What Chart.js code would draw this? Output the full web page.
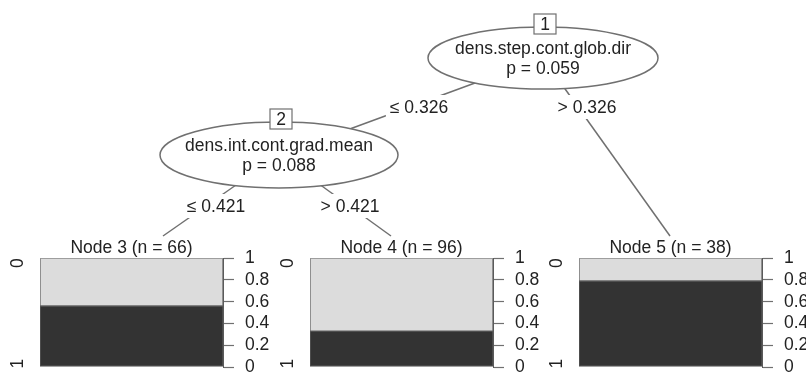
<!DOCTYPE html>
<html>
<head>
<meta charset="utf-8">
<script src="https://cdn.jsdelivr.net/npm/chart.js@4.4.1/dist/chart.umd.min.js"></script>
<style>
  html, body { margin: 0; padding: 0; background: #fff; overflow: hidden; }
  #wrap { position: relative; width: 806px; height: 373px; overflow: hidden; background: #fff; }
  canvas { position: absolute; }
</style>
</head>
<body>
<div id="wrap">
  <canvas id="tree" width="806" height="373" style="left:0;top:0;width:806px;height:373px"></canvas>
  <canvas id="n3" width="270" height="160" style="left:0;top:235px;width:270px;height:160px"></canvas>
  <canvas id="n4" width="270" height="160" style="left:270px;top:235px;width:270px;height:160px"></canvas>
  <canvas id="n5" width="270" height="160" style="left:539px;top:235px;width:270px;height:160px"></canvas>
</div>
<script>
// ---------- data ----------
const innerIds = [1, 2];
const splitVars = ["dens.step.cont.glob.dir", "dens.int.cont.grad.mean"];
const pValues = ["0.059", "0.088"];
const splitPoints = ["0.326", "0.421"];
const terminalIds = [3, 4, 5];
const terminalN = [66, 96, 38];
const share1 = [0.56, 0.33, 0.79];   // dark, bottom
const share0 = [0.44, 0.67, 0.21];   // light, top
const classLabels = ["0", "1"];
const yTickStep = 0.2;

// ---------- layout (positions on the tree canvas) ----------
const FONT = '"Liberation Sans", Arial, Helvetica, sans-serif';
const FS = 17.5;
const TXT = '#222222';
const LINE = '#707070';
Chart.defaults.font.family = FONT;
Chart.defaults.color = TXT;

const innerPos = { 1: {x: 543, y: 58, rx: 115, ry: 31}, 2: {x: 279, y: 155, rx: 119, ry: 33} };
const terminalAnchor = { 3: {x: 163, y: 236}, 4: {x: 391, y: 236}, 5: {x: 670, y: 236} };
const edges = [
  {from: 1, to: 2, text: "\u2264 " + splitPoints[0], lx: 419, ly: 107},
  {from: 1, to: 5, text: "> " + splitPoints[0], lx: 587, ly: 107},
  {from: 2, to: 3, text: "\u2264 " + splitPoints[1], lx: 216, ly: 206},
  {from: 2, to: 4, text: "> " + splitPoints[1], lx: 350, ly: 206}
];
function posOf(id) { return innerPos[id] || terminalAnchor[id]; }

const treePlugin = {
  id: 'treePlugin',
  afterDatasetsDraw(chart) {
    const ctx = chart.ctx, xs = chart.scales.x, ys = chart.scales.y;
    ctx.save();
    ctx.font = FS + 'px ' + FONT;
    ctx.textAlign = 'center';
    ctx.textBaseline = 'middle';
    // edge labels
    edges.forEach(e => {
      const x = xs.getPixelForValue(e.lx), y = ys.getPixelForValue(e.ly);
      const w = ctx.measureText(e.text).width + 8;
      ctx.fillStyle = '#fff';
      ctx.fillRect(x - w / 2, y - 12, w, 24);
      ctx.fillStyle = TXT;
      ctx.fillText(e.text, x, y + 1);
    });
    // inner nodes
    innerIds.forEach((id, i) => {
      const p = innerPos[id];
      const cx = xs.getPixelForValue(p.x), cy = ys.getPixelForValue(p.y);
      ctx.beginPath();
      ctx.ellipse(cx, cy, p.rx, p.ry, 0, 0, Math.PI * 2);
      ctx.fillStyle = '#fff';
      ctx.fill();
      ctx.lineWidth = 1.5;
      ctx.strokeStyle = LINE;
      ctx.stroke();
      ctx.fillStyle = TXT;
      ctx.fillText(splitVars[i], cx, cy - 9);
      ctx.fillText('p = ' + pValues[i], cx, cy + 11);
      // id box
      const bw = 22, bh = 20, by = cy - p.ry - 3;
      ctx.fillStyle = '#fff';
      ctx.fillRect(cx + 2 - bw / 2, by - bh / 2, bw, bh);
      ctx.lineWidth = 1.2;
      ctx.strokeRect(cx + 2 - bw / 2, by - bh / 2, bw, bh);
      ctx.fillStyle = TXT;
      ctx.fillText(String(id), cx + 2, by + 1);
    });
    ctx.restore();
  }
};

new Chart(document.getElementById('tree'), {
  type: 'scatter',
  data: {
    datasets: edges.map(e => ({
      data: [{x: posOf(e.from).x, y: posOf(e.from).y}, {x: posOf(e.to).x, y: posOf(e.to).y}],
      showLine: true, borderColor: LINE, borderWidth: 1.5, pointRadius: 0
    }))
  },
  options: {
    responsive: false, animation: false, events: [],
    layout: { padding: 0 },
    plugins: { legend: { display: false }, tooltip: { enabled: false } },
    scales: {
      x: { type: 'linear', min: 0, max: 806, display: false },
      y: { type: 'linear', min: 0, max: 373, reverse: true, display: false }
    }
  },
  plugins: [treePlugin]
});

// ---------- terminal node bar charts ----------
const classLabelPlugin = {
  id: 'classLabels',
  afterDraw(chart) {
    const ctx = chart.ctx, a = chart.chartArea, ys = chart.scales.y;
    ctx.save();
    ctx.font = FS + 'px ' + FONT;
    ctx.fillStyle = TXT;
    ctx.textAlign = 'center';
    ctx.textBaseline = 'middle';
    [[classLabels[0], 0.955], [classLabels[1], 0.03]].forEach(([t, v]) => {
      ctx.save();
      ctx.translate(a.left - 22, ys.getPixelForValue(v));
      ctx.rotate(-Math.PI / 2);
      ctx.fillText(t, 0, 0);
      ctx.restore();
    });
    ctx.restore();
  }
};

terminalIds.forEach((id, i) => {
  new Chart(document.getElementById('n' + id), {
    type: 'bar',
    data: {
      labels: ['Node ' + id],
      datasets: [
        { label: classLabels[1], data: [share1[i]], backgroundColor: '#333333', borderColor: '#5a5a5a', borderWidth: 1, barPercentage: 1, categoryPercentage: 1, borderSkipped: false },
        { label: classLabels[0], data: [share0[i]], backgroundColor: '#dcdcdc', borderColor: '#6a6a6a', borderWidth: 1, barPercentage: 1, categoryPercentage: 1, borderSkipped: false }
      ]
    },
    options: {
      responsive: false, animation: false, events: [],
      layout: { padding: { left: 40, top: 3, right: 0, bottom: 28 } },
      plugins: {
        legend: { display: false }, tooltip: { enabled: false },
        title: {
          display: true, text: 'Node ' + id + ' (n = ' + terminalN[i] + ')',
          font: { size: FS, weight: 'normal', lineHeight: 1.15 }, color: TXT,
          padding: { top: 0, bottom: 0 }, fullSize: false
        }
      },
      scales: {
        x: { stacked: true, display: false },
        y: {
          stacked: true, position: 'right', min: 0, max: 1,
          ticks: { stepSize: yTickStep, autoSkip: false, font: { size: FS }, color: TXT, padding: 11,
                   callback: v => String(Math.round(v * 10) / 10) },
          grid: { drawOnChartArea: false, drawTicks: true, tickLength: 11, color: LINE, tickWidth: 1.2 },
          border: { display: true, color: '#5a5a5a', width: 1 },
          afterFit: s => { s.width = 47; }
        }
      }
    },
    plugins: [classLabelPlugin]
  });
});
</script>
</body>
</html>
